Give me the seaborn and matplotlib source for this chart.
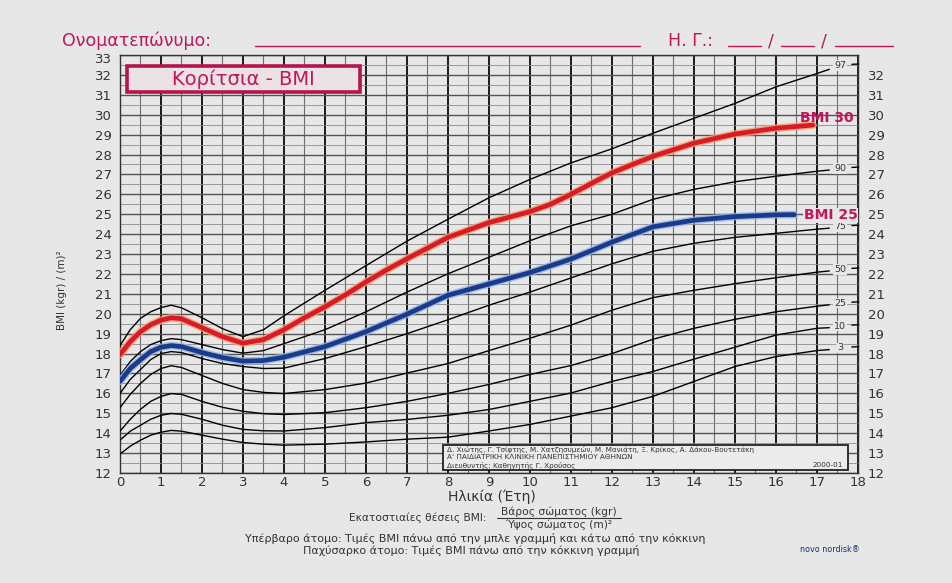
import numpy as np
import pandas as pd
import matplotlib
matplotlib.use("Agg")
import matplotlib.pyplot as plt
import matplotlib.transforms as mtransforms
import seaborn as sns
from matplotlib.patches import Rectangle
from matplotlib.lines import Line2D

# ---------------- data ----------------
AGES = [0, 0.25, 0.5, 0.75, 1, 1.25, 1.5, 2, 2.5, 3, 3.5, 4, 5, 6, 7, 8, 9, 10,
        11, 12, 13, 14, 15, 16, 17, 17.3]
P97 = [18.4, 19.2, 19.77, 20.1, 20.31, 20.43, 20.3, 19.8, 19.25, 18.85, 19.2, 19.9,
       21.18, 22.42, 23.65, 24.75, 25.83, 26.75, 27.58, 28.29, 29.07, 29.82, 30.57, 31.4, 32.07, 32.28]
P90 = [16.9, 17.6, 18.1, 18.45, 18.65, 18.75, 18.7, 18.45, 18.2, 18.02, 18.15, 18.5,
       19.2, 20.1, 21.09, 22.01, 22.84, 23.67, 24.42, 25.0, 25.75, 26.25, 26.63, 26.91, 27.16, 27.22]
P75 = [16.0, 16.7, 17.2, 17.7, 18.0, 18.1, 18.05, 17.75, 17.5, 17.35, 17.25, 17.27,
       17.75, 18.35, 19.0, 19.7, 20.43, 21.09, 21.8, 22.51, 23.14, 23.54, 23.84, 24.04, 24.25, 24.3]
P50 = [15.28, 15.95, 16.5, 16.95, 17.25, 17.39, 17.3, 16.9, 16.5, 16.19, 16.05, 15.99,
       16.19, 16.52, 17.02, 17.5, 18.15, 18.77, 19.43, 20.18, 20.81, 21.18, 21.51, 21.81, 22.09, 22.15]
P25 = [14.1, 14.7, 15.2, 15.6, 15.85, 15.99, 15.95, 15.6, 15.3, 15.1, 14.98, 14.94,
       15.03, 15.28, 15.6, 16.0, 16.45, 16.95, 17.4, 18.0, 18.72, 19.27, 19.72, 20.1, 20.38, 20.45]
P10 = [13.65, 14.1, 14.4, 14.7, 14.9, 14.99, 14.95, 14.7, 14.4, 14.19, 14.12, 14.11,
       14.28, 14.53, 14.69, 14.9, 15.19, 15.6, 16.02, 16.6, 17.1, 17.72, 18.32, 18.93, 19.27, 19.3]
P3 = [12.95, 13.35, 13.65, 13.9, 14.05, 14.14, 14.1, 13.9, 13.7, 13.53, 13.45, 13.4,
      13.45, 13.56, 13.7, 13.8, 14.11, 14.44, 14.86, 15.28, 15.85, 16.6, 17.35, 17.85, 18.15, 18.2]
PERCENTILE_LABELS = ["97", "90", "75", "50", "25", "10", "3"]

AGES_30 = [0, 0.25, 0.5, 0.75, 1, 1.25, 1.5, 2, 2.5, 3, 3.5, 4, 4.5, 5, 5.5, 6, 6.5, 7,
           7.5, 8, 9, 10, 10.5, 11, 11.5, 12, 12.5, 13, 14, 15, 16, 16.9]
BMI30 = [17.95, 18.6, 19.1, 19.45, 19.68, 19.8, 19.75, 19.3, 18.85, 18.52, 18.7, 19.2,
         19.8, 20.35, 20.95, 21.6, 22.2, 22.76, 23.3, 23.84, 24.58, 25.13, 25.5, 26.0,
         26.55, 27.08, 27.5, 27.91, 28.57, 29.03, 29.32, 29.48]
AGES_25 = [0, 0.25, 0.5, 0.75, 1, 1.25, 1.5, 2, 2.5, 3, 3.5, 4, 5, 6, 7, 8, 9, 10, 11,
           12, 13, 14, 15, 16, 16.45]
BMI25 = [16.6, 17.25, 17.69, 18.1, 18.32, 18.4, 18.35, 18.05, 17.8, 17.62, 17.65, 17.82,
         18.35, 19.1, 19.98, 20.93, 21.5, 22.07, 22.75, 23.6, 24.37, 24.7, 24.88, 24.97, 24.98]

X_TICKS = list(range(0, 19))
Y_TICKS_LEFT = list(range(12, 34))
Y_TICKS_RIGHT = list(range(12, 33))

# ---------------- styling ----------------
BG = "#e7e7e7"
CRIMSON = "#c0175a"
RED = "#d81b28"
BLUE = "#1b3a8c"
TXT = "#333333"

sns.set_theme(style="white")
plt.rcParams["font.family"] = ["DejaVu Sans"]

W, H = 953, 583
fig = plt.figure(figsize=(W / 100, H / 100), dpi=100, facecolor=BG)


def fx(px):
    return px / W


def fy(py):
    return 1 - py / H


ax = fig.add_axes([fx(120), fy(473), (858 - 120) / W, (473 - 55) / H])
ax.set_facecolor(BG)
ax.set_xlim(0, 18)
ax.set_ylim(12, 33)

# grid
ax.set_xticks(X_TICKS)
ax.set_xticks(np.arange(0.5, 18, 1.0), minor=True)
ax.set_yticks(Y_TICKS_LEFT)
ax.set_yticks(np.arange(12.5, 33, 1.0), minor=True)
ax.xaxis.grid(True, which="major", color="#1a1a1a", lw=1.4, zorder=0)
ax.xaxis.grid(True, which="minor", color="#6e6e6e", lw=0.8, zorder=0)
ax.yaxis.grid(True, which="major", color="#545454", lw=1.0, zorder=0)
ax.yaxis.grid(True, which="minor", color="#8c8c8c", lw=0.6, zorder=0)
ax.set_axisbelow(True)
for s in ax.spines.values():
    s.set_color("#333333")
    s.set_linewidth(1.0)

ax.tick_params(axis="both", which="both", length=0)
ax.tick_params(axis="x", pad=2, labelsize=9.5, labelcolor=TXT)
ax.tick_params(axis="y", pad=6, labelsize=9.5, labelcolor=TXT)
ax.set_xticklabels([str(v) for v in X_TICKS])
ax.set_yticklabels([str(v) for v in Y_TICKS_LEFT])
# nudge the top-most left label ("33") slightly down, as in the reference
top_lab = ax.get_yticklabels()[-1]
top_lab.set_transform(top_lab.get_transform()
                      + mtransforms.ScaledTranslation(0, -3 / 100, fig.dpi_scale_trans))

sec = ax.secondary_yaxis("right")
sec.set_yticks(Y_TICKS_RIGHT)
sec.set_yticklabels([str(v) for v in Y_TICKS_RIGHT])
sec.tick_params(length=0, pad=7, labelsize=9.5, labelcolor=TXT)
sec.spines["right"].set_visible(False)

ax.set_xlabel("")
ax.set_ylabel("")
fig.text(fx(492), fy(496.5), "Ηλικία (Έτη)", fontsize=10, color=TXT, ha="center",
         va="center")
fig.text(fx(62), fy(290), "BMI (kgr) / (m)²", rotation=90, ha="center", va="center",
         fontsize=7.5, color=TXT)

# percentile curves
curves = [P97, P90, P75, P50, P25, P10, P3]
for vals, lab in zip(curves, PERCENTILE_LABELS):
    sns.lineplot(x=AGES, y=vals, ax=ax, color="black", lw=1.0, sort=False,
                 estimator=None, zorder=3)
    yl = vals[-1] + (0.2 if lab == "97" else 0.08)
    ax.text(17.56, yl, lab, fontsize=6.8, color=TXT, ha="center", va="center",
            zorder=6, clip_on=False,
            bbox=dict(boxstyle="square,pad=0.08", fc=BG, ec="none"))
    ax.plot([17.84, 18.03], [yl + 0.05, yl + 0.07], color="black", lw=1.0,
            zorder=3, clip_on=False, solid_capstyle="butt")

# BMI 25 (blue) and BMI 30 (red) reference lines with halo
sns.lineplot(x=AGES_25, y=BMI25, ax=ax, color="#8fb3e3", lw=5.5, sort=False,
             estimator=None, zorder=4, alpha=0.8)
sns.lineplot(x=AGES_25, y=BMI25, ax=ax, color=BLUE, lw=3.4, sort=False,
             estimator=None, zorder=4.1)
sns.lineplot(x=AGES_30, y=BMI30, ax=ax, color="#f2a066", lw=5.5, sort=False,
             estimator=None, zorder=4, alpha=0.8)
sns.lineplot(x=AGES_30, y=BMI30, ax=ax, color=RED, lw=3.4, sort=False,
             estimator=None, zorder=4.1)
ax.text(17.25, BMI30[-1] + 0.36, "BMI 30", fontsize=10, fontweight="bold",
        color=CRIMSON, ha="center", va="center", zorder=7, clip_on=False)
ax.text(17.33, BMI25[-1] - 0.03, "BMI 25", fontsize=10, fontweight="bold",
        color=CRIMSON, ha="center", va="center", zorder=7, clip_on=False,
        bbox=dict(boxstyle="square,pad=0.05", fc=BG, ec="none"))

# title box
ax.add_patch(Rectangle((0.17, 31.15), 5.68, 1.3, fc="#ebe2e5", ec="#b5154d", lw=2.6,
                       zorder=8))
ax.text(3.0, 31.8, "Κορίτσια - BMI", fontsize=14, color=CRIMSON, ha="center",
        va="center", zorder=9)

# citation box
ax.add_patch(Rectangle((7.88, 12.17), 9.88, 1.26, fc="#ebebeb", ec="#222222", lw=1.3,
                       zorder=8))
cite_kw = dict(fontsize=5.2, color="#333333", zorder=9, va="center")
ax.text(7.98, 13.18, "Δ. Χιώτης, Γ. Τσίφτης, Μ. Χατζησυμεών, Μ. Μανιάτη, Ξ. Κρίκος, "
        "Α. Δάκου-Βουτετάκη", ha="left", **cite_kw)
ax.text(7.98, 12.79, "Α' ΠΑΙΔΙΑΤΡΙΚΗ ΚΛΙΝΙΚΗ ΠΑΝΕΠΙΣΤΗΜΙΟΥ ΑΘΗΝΩΝ", ha="left", **cite_kw)
ax.text(7.98, 12.40, "Διευθυντής: Καθηγητής Γ. Χρούσος", ha="left", **cite_kw)
ax.text(17.62, 12.40, "2000-01", ha="right", **cite_kw)

# header
HFS = 12.5
fig.text(fx(62), fy(46), "Ονοματεπώνυμο:", fontsize=HFS, color=CRIMSON, ha="left",
         va="baseline")
fig.text(fx(668), fy(46), "Η. Γ.:", fontsize=HFS, color=CRIMSON, ha="left",
         va="baseline")
for x0, x1 in [(255, 640), (728, 761), (781, 814), (835, 893)]:
    fig.add_artist(Line2D([fx(x0), fx(x1)], [fy(46), fy(46)], color=CRIMSON, lw=1.0))
for xs in (771, 824):
    fig.text(fx(xs), fy(46), "/", fontsize=HFS, color=CRIMSON, ha="center",
             va="baseline")

# footer
FS = 7.7
fig.text(fx(487), fy(518), "Εκατοστιαίες θέσεις BMI:", fontsize=FS, color=TXT,
         ha="right", va="center")
fig.text(fx(559), fy(511.5), "Βάρος σώματος (kgr)", fontsize=FS, color=TXT,
         ha="center", va="center")
fig.add_artist(Line2D([fx(497), fx(621)], [fy(518), fy(518)], color=TXT, lw=0.8))
fig.text(fx(559), fy(524.5), "Ύψος σώματος (m)²", fontsize=FS, color=TXT,
         ha="center", va="center")
fig.text(fx(475), fy(538), "Υπέρβαρο άτομο: Τιμές BMI πάνω από την μπλε γραμμή και "
         "κάτω από την κόκκινη", fontsize=FS + 0.3, color=TXT, ha="center", va="center")
fig.text(fx(471), fy(551), "Παχύσαρκο άτομο: Τιμές BMI πάνω από την κόκκινη γραμμή",
         fontsize=FS + 0.3, color=TXT, ha="center", va="center")
fig.text(fx(830), fy(549), "novo nordisk®", fontsize=5.8, color="#1a2f6e",
         ha="center", va="center")

fig.savefig("out.png", dpi=100, facecolor=BG)
